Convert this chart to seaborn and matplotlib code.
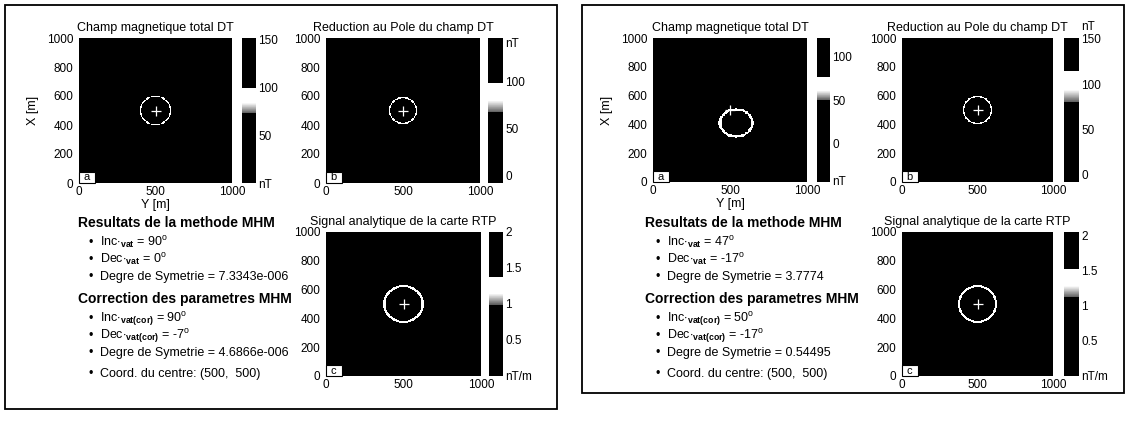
import numpy as np
import matplotlib
matplotlib.use("Agg")
import matplotlib.pyplot as plt
import seaborn as sns
from matplotlib.colors import ListedColormap
from matplotlib.patches import Rectangle

sns.set_theme(style="white")
plt.rcParams["font.family"] = ["Liberation Sans", "DejaVu Sans"]
plt.rcParams["mathtext.fontset"] = "custom"
plt.rcParams["mathtext.rm"] = "Liberation Sans"
plt.rcParams["mathtext.it"] = "Liberation Sans:italic"
plt.rcParams["mathtext.bf"] = "Liberation Sans:bold"
for key in ["text.color", "axes.labelcolor", "xtick.color", "ytick.color",
            "axes.titlecolor"]:
    plt.rcParams[key] = "black"

# ---------------- data ----------------
# panel order: left a, left b, left c, right a, right b, right c
panel_titles = ["Champ magnetique total DT", "Reduction au Pole du champ DT",
                "Signal analytique de la carte RTP",
                "Champ magnetique total DT", "Reduction au Pole du champ DT",
                "Signal analytique de la carte RTP"]
panel_letters = ["a", "b", "c", "a", "b", "c"]
grid_extent = 1000          # m
grid_step = 5               # m
x_ticks = [0, 500, 1000]
y_ticks = [0, 200, 400, 600, 800, 1000]

ring_cx = [500, 500, 500, 540, 500, 500]      # Y [m] of anomaly ring centre
ring_cy = [500, 500, 500, 410, 500, 500]      # X [m]
ring_rx = [98, 88, 124, 105, 93, 123]
ring_ry = [98, 88, 124, 95, 93, 123]
ring_w = [9, 8, 15, 16, 9, 15]
centre_y = [500, 500, 500, 500, 500, 500]     # cross marker
centre_x = [500, 500, 500, 500, 500, 500]

cbar_min = [0, -8, 0, -45, -8, 0]
cbar_max = [152, 146, 2.0, 122, 151, 2.05]
band_lo = [73, 67, 0.99, 50, 80, 1.12]
band_hi = [100, 98, 1.37, 77, 114, 1.52]
cbar_ticks = [[0, 50, 100, 150], [0, 50, 100, 141], [0, 0.5, 1, 1.5, 2],
              [-43, 0, 50, 100], [0, 50, 100, 150], [0, 0.5, 1, 1.5, 2]]
cbar_labels = [["nT", "50", "100", "150"], ["0", "50", "100", "nT"],
               ["nT/m", "0.5", "1", "1.5", "2"], ["nT", "0", "50", "100"],
               ["0", "50", "100", "150"], ["nT/m", "0.5", "1", "1.5", "2"]]

inc_vat = [90, 47]
dec_vat = [0, -17]
sym_vat = ["7.3343e-006", "3.7774"]
inc_cor = [90, 50]
dec_cor = [-7, -17]
sym_cor = ["4.6866e-006", "0.54495"]
centre_coord = [(500, 500), (500, 500)]

# ---------------- layout (pixels) ----------------
W, H = 1131, 421
fig = plt.figure(figsize=(W / 100, H / 100), dpi=100)
fig.patch.set_facecolor("white")


def add_px(x0, y0, x1, y1):
    return fig.add_axes([x0 / W, 1 - y1 / H, (x1 - x0) / W, (y1 - y0) / H])


img_boxes = [(79, 38, 232, 183), (326, 38, 480, 183), (326, 232, 481, 376),
             (653, 38, 807, 182), (902, 38, 1053, 182), (902, 232, 1053, 376)]
cb_boxes = [(242, 38, 256, 183), (488, 38, 503, 183), (489, 232, 503, 376),
            (817, 38, 830, 182), (1064, 38, 1079, 182), (1064, 232, 1079, 376)]


def band_cmap(vmin, vmax, lo, hi, n=512):
    v = np.linspace(vmin, vmax, n)
    g = np.zeros(n)
    inb = (v >= lo) & (v <= hi)
    frac = (v[inb] - lo) / (hi - lo)
    g[inb] = np.clip(0.35 + 1.6 * frac, 0, 1)
    cols = np.stack([g, g, g, np.ones(n)], axis=1)
    return ListedColormap(cols)


ncell = grid_extent // grid_step
gc = (np.arange(ncell) + 0.5) * grid_step
GX, GY = np.meshgrid(gc, gc)

for i in range(6):
    ax = add_px(*img_boxes[i])
    cax = add_px(*cb_boxes[i])
    vmin, vmax = cbar_min[i], cbar_max[i]
    lo, hi = band_lo[i], band_hi[i]
    rr = np.hypot((GX - ring_cx[i]) / ring_rx[i], (GY - ring_cy[i]) / ring_ry[i])
    rmean = 0.5 * (ring_rx[i] + ring_ry[i])
    ring_val = lo + 0.8 * (hi - lo)
    field = np.where(np.abs(rr - 1) * rmean < ring_w[i] / 2, ring_val, vmin)
    sns.heatmap(field, ax=ax, cmap=band_cmap(vmin, vmax, lo, hi), vmin=vmin,
                vmax=vmax, cbar_ax=cax, xticklabels=False, yticklabels=False)
    ax.invert_yaxis()
    ax.set_xticks([t / grid_step for t in x_ticks])
    ax.set_xticklabels([str(t) for t in x_ticks])
    ax.set_yticks([t / grid_step for t in y_ticks])
    ax.set_yticklabels([str(t) for t in y_ticks])
    ax.tick_params(axis="both", length=0, labelsize=8.5, colors="black")
    ax.tick_params(axis="x", pad=2)
    ax.tick_params(axis="y", pad=4)
    ax.set_title(panel_titles[i], fontsize=9, pad=5, color="black")
    ax.plot([centre_y[i] / grid_step], [centre_x[i] / grid_step], marker="+",
            color="white", ms=7.5, mew=0.9, ls="none")
    if i in (0, 3):
        ax.set_xlabel("Y [m]", fontsize=9, labelpad=1, color="black")
        ax.set_ylabel("X [m]", fontsize=9, labelpad=6, color="black")
    # letter box
    ax.add_patch(Rectangle((0, 0), 0.105, 0.076, transform=ax.transAxes,
                           facecolor="white", edgecolor="black", lw=0.8,
                           zorder=5, clip_on=False))
    ax.text(0.028, 0.038, panel_letters[i], transform=ax.transAxes, fontsize=8,
            ha="left", va="center", zorder=6, color="black")
    # colorbar
    cax.set_yticks(cbar_ticks[i])
    cax.set_yticklabels(cbar_labels[i])
    cax.tick_params(axis="y", length=0, pad=1.5, labelsize=8.5, colors="black")
    cax.set_ylim(vmin, vmax)

fig.text(1081 / W, 1 - 27 / H, "nT", fontsize=8.5, ha="left", va="center")

# ---------------- result text blocks ----------------
text_x = [78, 645]
for k in range(2):
    x0 = text_x[k]
    rows = [
        (223, True, "Resultats de la methode MHM"),
        (243, False, r"Inc$\cdot_{\mathbf{vat}}$ = %d$^{\mathrm{o}}$" % inc_vat[k]),
        (260, False, r"Dec$\cdot_{\mathbf{vat}}$ = %d$^{\mathrm{o}}$" % dec_vat[k]),
        (277, False, "Degre de Symetrie = %s" % sym_vat[k]),
        (299, True, "Correction des parametres MHM"),
        (319, False, r"Inc$\cdot_{\mathbf{vat(cor)}}$ = %d$^{\mathrm{o}}$" % inc_cor[k]),
        (336, False, r"Dec$\cdot_{\mathbf{vat(cor)}}$ = %d$^{\mathrm{o}}$" % dec_cor[k]),
        (353, False, "Degre de Symetrie = %s" % sym_cor[k]),
        (374, False, "Coord. du centre: (%d,  %d)" % centre_coord[k]),
    ]
    for y, bold, s in rows:
        if bold:
            fig.text(x0 / W, 1 - y / H, s, fontsize=10, fontweight="bold",
                     ha="left", va="center")
        else:
            fig.text((x0 + 10) / W, 1 - y / H, "\u2022", fontsize=9,
                     ha="left", va="center")
            fig.text((x0 + 22) / W, 1 - y / H, s, fontsize=9,
                     ha="left", va="center")

# ---------------- outer frames ----------------
for (x0, y0, x1, y1) in [(5, 5, 557, 409), (582, 5, 1124, 393)]:
    fig.add_artist(Rectangle((x0 / W, 1 - y1 / H), (x1 - x0) / W, (y1 - y0) / H,
                             transform=fig.transFigure, fill=False,
                             edgecolor="black", lw=1.3))

fig.savefig("out.png", dpi=100, facecolor="white")
